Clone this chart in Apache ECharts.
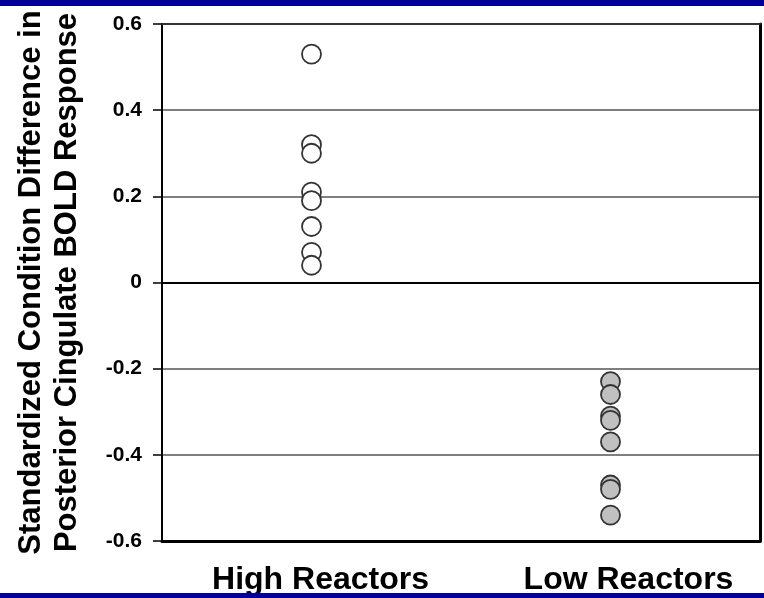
<!DOCTYPE html>
<html><head><meta charset="utf-8">
<script src="https://cdn.jsdelivr.net/npm/echarts@6/dist/echarts.min.js"></script>
<style>html,body{margin:0;padding:0;background:#fff}#c{width:764px;height:598px}</style>
</head><body><div id="c"></div>
<script>
const categories = ['High Reactors', 'Low Reactors'];
const highReactors = [0.53, 0.32, 0.30, 0.21, 0.19, 0.13, 0.07, 0.04];
const lowReactors = [-0.23, -0.26, -0.31, -0.32, -0.37, -0.47, -0.48, -0.54];
const yTickLabels = ['-0.6', '-0.4', '-0.2', '0', '0.2', '0.4', '0.6'];
const yTitleLines = ['Standardized Condition Difference in', 'Posterior Cingulate BOLD Response'];

const FONT = '"Liberation Sans", Arial, sans-serif';
const chart = echarts.init(document.getElementById('c'), null, {renderer: 'canvas'});
chart.setOption({
  animation: false,
  backgroundColor: '#ffffff',
  graphic: [
    {type: 'rect', shape: {x: 0, y: 0, width: 764, height: 6}, style: {fill: '#000099'}, z: 100},
    {type: 'rect', shape: {x: 0, y: 593, width: 764, height: 5}, style: {fill: '#000099'}, z: 100}
  ],
  grid: {left: 162, right: 4, top: 24, bottom: 57, containLabel: false},
  xAxis: [
    {
      type: 'category', data: categories, position: 'bottom',
      axisLine: {onZero: false, lineStyle: {color: '#000', width: 3}},
      axisTick: {show: false},
      splitLine: {show: false},
      axisLabel: {
        margin: 23, color: '#000',
        formatter: function (v) { return (v === categories[0] ? '{h|' : '{l|') + v + '}'; },
        rich: {
          h: {fontSize: 32, fontWeight: 'bold', fontFamily: FONT, color: '#000', padding: [0, 0, 0, 18]},
          l: {fontSize: 32, fontWeight: 'bold', fontFamily: FONT, color: '#000', padding: [0, 0, 0, 36]}
        }
      }
    },
    {
      type: 'category', data: categories, position: 'top',
      axisLine: {onZero: false, lineStyle: {color: '#333', width: 2}},
      axisTick: {show: false}, axisLabel: {show: false}, splitLine: {show: false}
    }
  ],
  yAxis: [
    {
      type: 'value', min: -0.6, max: 0.6, interval: 0.2, position: 'left',
      axisLine: {show: true, onZero: false, lineStyle: {color: '#000', width: 2}},
      axisTick: {show: true, inside: false, length: 9, lineStyle: {color: '#000', width: 1.5}},
      axisLabel: {
        margin: 20, color: '#000', fontSize: 21, fontWeight: 'bold', fontFamily: FONT,
        formatter: function (v) { return yTickLabels[Math.round((v + 0.6) / 0.2)]; }
      },
      splitLine: {show: true, lineStyle: {color: '#555', width: 1.5}},
      name: yTitleLines.join('\n'),
      nameLocation: 'middle', nameGap: 77, nameRotate: 90,
      nameTextStyle: {fontSize: 31, fontWeight: 'bold', fontFamily: FONT, color: '#000', lineHeight: 36, align: 'center'}
    },
    {
      type: 'value', min: -0.6, max: 0.6, interval: 0.2, position: 'right',
      axisLine: {show: true, onZero: false, lineStyle: {color: '#000', width: 3}},
      axisTick: {show: false}, axisLabel: {show: false}, splitLine: {show: false}
    }
  ],
  series: [
    {
      type: 'scatter', xAxisIndex: 0, yAxisIndex: 0,
      data: highReactors.map(function (v) { return [categories[0], v]; }),
      symbol: 'circle', symbolSize: 19,
      itemStyle: {color: '#ffffff', borderColor: '#333', borderWidth: 1.8, opacity: 1},
      markLine: {
        silent: true, symbol: 'none', label: {show: false},
        lineStyle: {color: '#000', width: 2, type: 'solid'},
        data: [{yAxis: 0}]
      }
    },
    {
      type: 'scatter', xAxisIndex: 0, yAxisIndex: 0,
      data: lowReactors.map(function (v) { return [categories[1], v]; }),
      symbol: 'circle', symbolSize: 19,
      itemStyle: {color: '#c0c0c0', borderColor: '#333', borderWidth: 1.8, opacity: 1}
    }
  ]
});
</script>
</body></html>
